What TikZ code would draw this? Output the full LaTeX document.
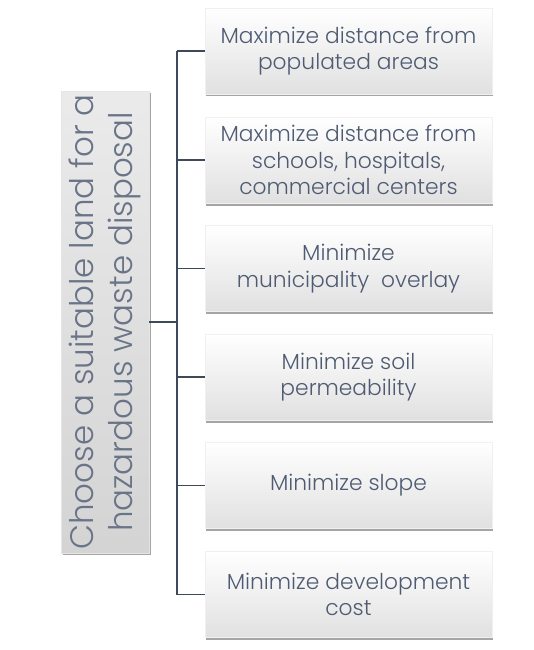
\documentclass[tikz,border=0pt]{standalone}
\usepackage{fontspec}
\setmainfont{Poppins Light}
\usetikzlibrary{shadows}
\definecolor{txt}{HTML}{4E5B72}
\definecolor{lin}{HTML}{3E4A5C}
\tikzset{
  leaf/.style={rectangle, minimum width=287pt, minimum height=86pt, align=center,
    top color=white, bottom color=black!12, draw=black!6, line width=0.4pt,
    text=txt, font=\fontsize{21.8}{26.5}\selectfont,
    drop shadow={shadow xshift=1pt, shadow yshift=-2.5pt, opacity=0.5, fill=black!70}},
  rootbox/.style={rectangle, rotate=90, minimum width=456pt, minimum height=88pt, align=center,
    top color=black!8, bottom color=black!17, draw=black!10, line width=0.4pt,
    text=txt!85!white, font=\fontsize{32.5}{39.5}\selectfont,
    drop shadow={shadow xshift=2pt, shadow yshift=-2pt, opacity=0.5, fill=black!70}},
  conn/.style={draw=lin, line width=1.4pt}
}
\begin{document}
\begin{tikzpicture}[x=1pt,y=-1pt]
\useasboundingbox (0,0) rectangle (533,650);
\node[rootbox] (root) at (105,322) {Choose a suitable land for a\\hazardous waste disposal};
\node[leaf] (b1) at (348.5,51) {Maximize distance from\\populated areas};
\node[leaf] (b2) at (348.5,160) {Maximize distance from\\schools, hospitals,\\commercial centers};
\node[leaf] (b3) at (348.5,268.5) {Minimize\\municipality\ \ overlay};
\node[leaf] (b4) at (348.5,377) {Minimize soil\\permeability};
\node[leaf] (b5) at (348.5,485.5) {Minimize slope};
\node[leaf] (b6) at (348.5,594.5) {Minimize development\\cost};
\coordinate (tr) at (177,322);
\coordinate (t1) at (177,51);
\coordinate (t6) at (177,594.5);
\draw[conn] (root.south) -- (tr);
\draw[conn] (t1) -- (b1.west);
\draw[conn] (t1) -- (t6);
\draw[conn] (t6) -- (b6.west);
\foreach \b in {b2,b3,b4,b5} \draw[conn] (\b.west) -- (\b.west -| tr);
\end{tikzpicture}
\end{document}
